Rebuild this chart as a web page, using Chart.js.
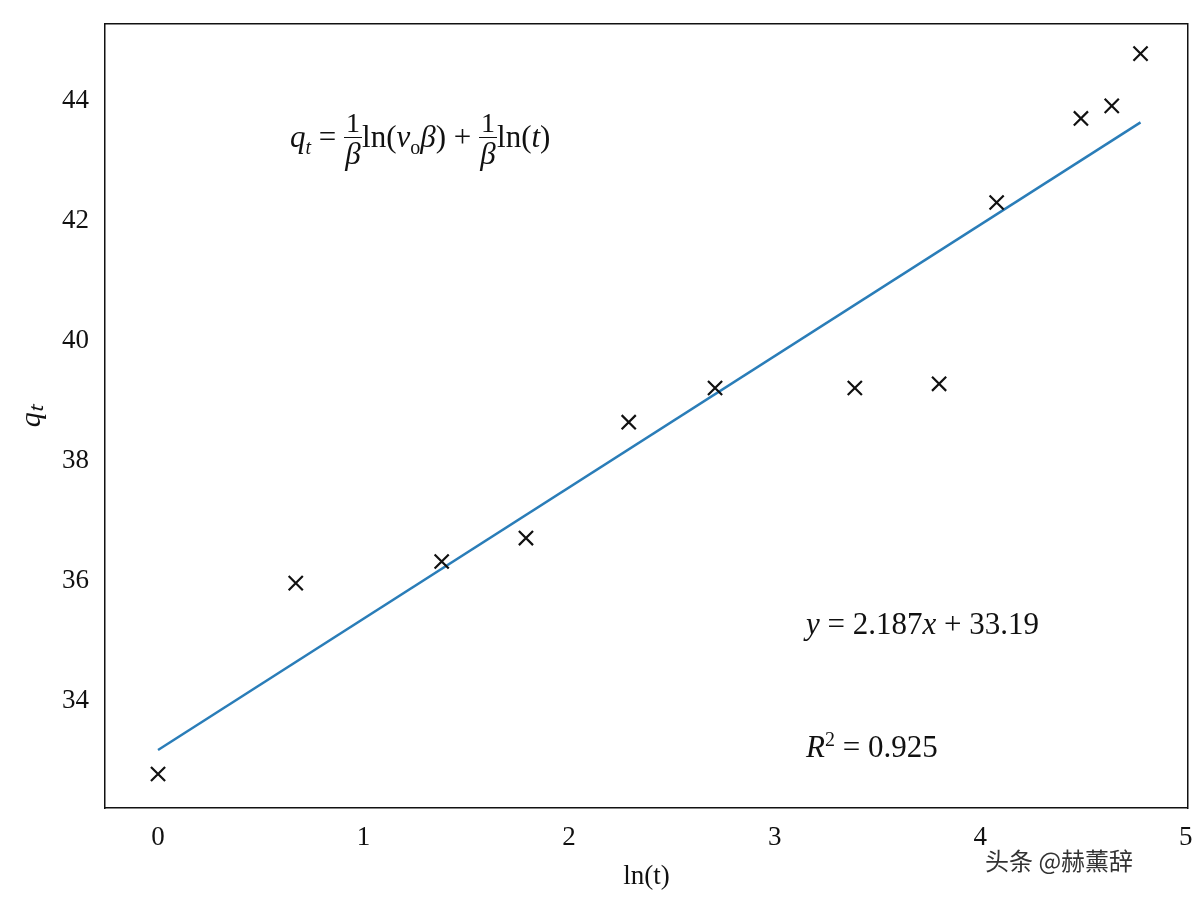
<!DOCTYPE html>
<html><head><meta charset="utf-8">
<script src="https://cdn.jsdelivr.net/npm/chart.js@4"></script>
<style>
body{margin:0;background:#fff;font-family:"Liberation Serif",serif}
#wrap{position:relative;width:1200px;height:903px}
.t{position:absolute;font-family:"Liberation Serif",serif;font-size:31px;color:#111;white-space:nowrap}
.frac{display:inline-block;vertical-align:middle;text-align:center;line-height:1.05}
.frac span{display:block}
.frac .n{border-bottom:1.5px solid #111;font-size:28px;padding:0 2px}
</style></head><body>
<div id="wrap"><canvas id="c" width="1200" height="903"></canvas>
<div class="t" style="left:290px;top:108px"><i>q<sub style="font-size:20px">t</sub></i> = <span class="frac"><span class="n">1</span><span><i>β</i></span></span>ln(<i>v</i><sub style="font-size:20px">o</sub><i>β</i>) + <span class="frac"><span class="n">1</span><span><i>β</i></span></span>ln(<i>t</i>)</div>
<div class="t" style="left:806px;top:606px"><i>y</i> = 2.187<i>x</i> + 33.19</div>
<div class="t" style="left:806px;top:728px"><i>R</i><sup style="font-size:20px">2</sup> = 0.925</div>
<div class="t" style="left:985px;top:842px;font-family:'Noto Sans CJK SC';font-size:24px;color:#333">头条 @赫薰辞</div>
</div>
<script>
const lnT = [0, 0.67, 1.38, 1.79, 2.29, 2.71, 3.39, 3.80, 4.08, 4.49, 4.64, 4.78];
const qT = [32.79, 35.97, 36.33, 36.72, 38.65, 39.22, 39.22, 39.29, 42.31, 43.71, 43.92, 44.79];
const slope = 2.187, intercept = 33.19;
const fitX = [0, 4.78];

new Chart(document.getElementById('c'), {
  type: 'scatter',
  data: {
    datasets: [
      {
        data: lnT.map((x, i) => ({ x, y: qT[i] })),
        pointStyle: 'crossRot', pointRadius: 10, borderColor: '#111', borderWidth: 2.2
      },
      {
        type: 'line',
        data: fitX.map(x => ({ x, y: slope * x + intercept })),
        borderColor: '#2a7db8', borderWidth: 2.5, pointRadius: 0, fill: false
      }
    ]
  },
  options: {
    responsive: false, animation: false,
    layout: { padding: { top: -3, right: 2, left: 10, bottom: 10 } },
    plugins: { legend: { display: false }, tooltip: { enabled: false } },
    scales: {
      x: {
        type: 'linear', min: -0.258, max: 5.01,
        afterBuildTicks: a => { a.ticks = [0,1,2,3,4,5].map(v => ({ value: v })); },
        grid: { display: false },
        border: { color: '#111', width: 1.5 },
        ticks: { color: '#111', font: { family: 'Liberation Serif', size: 27 }, padding: 6 },
        title: { display: true, text: 'ln(t)', color: '#111', font: { family: 'Liberation Serif', size: 27 }, padding: 0 }
      },
      y: {
        min: 32.22, max: 45.28,
        afterBuildTicks: a => { a.ticks = [34,36,38,40,42,44].map(v => ({ value: v })); },
        grid: { display: false },
        border: { color: '#111', width: 1.5 },
        ticks: { color: '#111', font: { family: 'Liberation Serif', size: 27 }, padding: 8 },
        title: { display: true, text: 'qₜ', color: '#111', font: { family: 'Liberation Serif', size: 30, style: 'italic' }, padding: 4 }
      },
      x2: { position: 'top', type: 'linear', display: true, grid: { display: false }, ticks: { display: false }, border: { color: '#111', width: 1.5 } },
      y2: { position: 'right', display: true, grid: { display: false }, ticks: { display: false }, border: { color: '#111', width: 1.5 } }
    }
  }
});
</script>
</body></html>
